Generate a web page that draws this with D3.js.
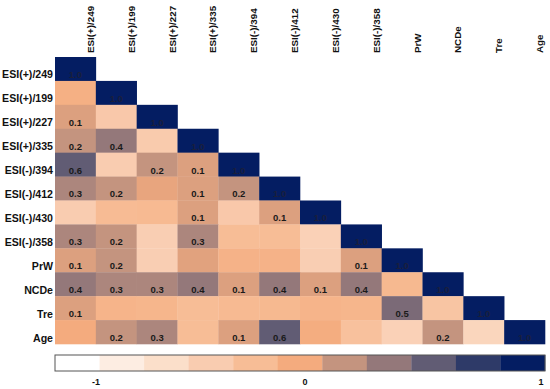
<!DOCTYPE html>
<html>
<head>
<meta charset="utf-8">
<script src="https://cdn.jsdelivr.net/npm/d3@7"></script>
<style>
  body { margin: 0; background: #fff; }
  text { font-family: "Liberation Sans", Arial, sans-serif; font-weight: bold; }
</style>
</head>
<body>
<div class="canvas"></div>
<script>
const w = 550;
const h = 389;

// variable names (rows top->bottom, columns left->right)
const vars = ["ESI(+)/249", "ESI(+)/199", "ESI(+)/227", "ESI(+)/335", "ESI(-)/394", "ESI(-)/412",
              "ESI(-)/430", "ESI(-)/358", "PrW", "NCDe", "Tre", "Age"];

// lower triangle of the correlation matrix, one row per variable
const corr = [
  [1.0],
  [-0.05, 1.0],
  [0.1, -0.35, 1.0],
  [0.2, 0.4, -0.38, 1.0],
  [0.6, -0.4, 0.2, 0.1, 1.0],
  [0.3, 0.2, 0.05, 0.1, 0.2, 1.0],
  [-0.4, -0.18, -0.17, 0.1, -0.35, 0.1, 1.0],
  [0.3, 0.2, -0.42, 0.3, -0.2, -0.2, -0.45, 1.0],
  [0.1, 0.2, -0.42, 0.08, -0.08, -0.08, -0.42, 0.1, 1.0],
  [0.4, 0.3, 0.3, 0.4, 0.1, 0.4, 0.1, 0.4, -0.15, 1.0],
  [0.1, -0.1, -0.12, -0.2, -0.17, -0.15, -0.1, -0.12, 0.5, -0.3, 1.0],
  [0.0, 0.2, 0.3, -0.2, 0.1, 0.6, -0.02, -0.25, -0.45, 0.2, -0.5, 1.0]
];

// colour ramp, from -1 to 1
const palette = ["#ffffff", "#fdede2", "#fbdfca", "#f9ccb0", "#f7bd96", "#f4ab7e",
                 "#c4947f", "#94787a", "#615c74", "#2e3a68", "#041d62"];
const legendTicks = [-1, 0, 1];

const svg = d3.select(".canvas")
  .append("svg")
  .attr("width", w)
  .attr("height", h);

const x = d3.scaleBand().domain(vars).range([55, 545]);
const y = d3.scaleBand().domain(vars).range([57, 344]);

const color = d3.scaleLinear()
  .domain(d3.range(palette.length).map(i => -1 + i * 2 / (palette.length - 1)))
  .range(palette);

const cells = [];
corr.forEach((row, i) => row.forEach((v, j) => cells.push({r: vars[i], c: vars[j], v: v})));

const cell = svg.append("g").selectAll("g")
  .data(cells)
  .enter().append("g")
  .attr("transform", d => "translate(" + x(d.c) + "," + y(d.r) + ")");

cell.append("rect")
  .attr("width", x.bandwidth() + 0.3)
  .attr("height", y.bandwidth() + 0.3)
  .attr("fill", d => color(d.v));

cell.filter(d => d.v >= 0.095)
  .append("text")
  .attr("x", x.bandwidth() / 2)
  .attr("y", y.bandwidth() - 3)
  .attr("text-anchor", "middle")
  .style("font-size", "9.5px")
  .attr("fill", d => d.v > 0.9 ? "#1a1f3c" : "#1a1a1a")
  .text(d => d.v.toFixed(1));

// row labels
svg.append("g").selectAll("text")
  .data(vars)
  .enter().append("text")
  .attr("x", 53)
  .attr("y", d => y(d) + y.bandwidth() - 2.5)
  .attr("text-anchor", "end")
  .style("font-size", "10.6px")
  .attr("fill", "#111")
  .text(d => d);

// column labels
svg.append("g").selectAll("text")
  .data(vars)
  .enter().append("text")
  .attr("transform", d => "translate(" + (x(d) + x.bandwidth() - 2) + ",53) rotate(-90)")
  .attr("text-anchor", "start")
  .style("font-size", "9.8px")
  .attr("fill", "#111")
  .text(d => d);

// colour bar
const lx = d3.scaleBand().domain(d3.range(palette.length)).range([55, 545]);
const legend = svg.append("g");
legend.selectAll("rect")
  .data(palette)
  .enter().append("rect")
  .attr("x", (d, i) => lx(i))
  .attr("y", 355)
  .attr("width", lx.bandwidth() + 0.3)
  .attr("height", 16)
  .attr("fill", d => d);
legend.append("rect")
  .attr("x", 55)
  .attr("y", 355)
  .attr("width", 490)
  .attr("height", 16)
  .attr("fill", "none")
  .attr("stroke", "#555")
  .attr("stroke-width", 1);

const tx = d3.scaleLinear().domain([-1, 0, 1]).range([96, 305, 541]);
legend.selectAll("text")
  .data(legendTicks)
  .enter().append("text")
  .attr("x", d => tx(d))
  .attr("y", 385)
  .attr("text-anchor", "middle")
  .style("font-size", "9px")
  .attr("fill", "#111")
  .text(d => d);
</script>
</body>
</html>
